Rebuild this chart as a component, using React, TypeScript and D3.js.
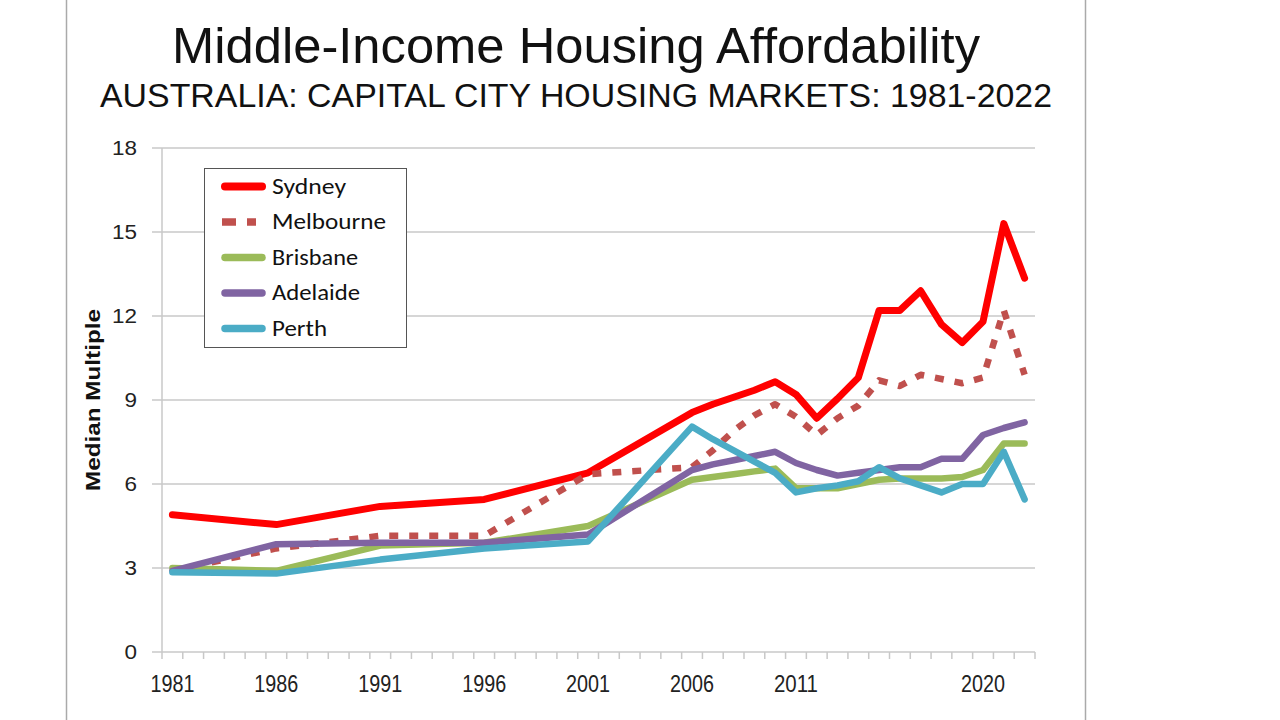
import React from "react";
import * as d3 from "d3";

const years = [1981, 1986, 1991, 1996, 2001, 2006, 2007, 2008, 2009, 2010, 2011, 2012, 2013, 2014, 2015, 2016, 2017, 2018, 2019, 2020, 2021, 2022];
const sydney = [4.9, 4.55, 5.2, 5.45, 6.4, 8.55, 8.85, 9.1, 9.35, 9.65, 9.2, 8.35, 9.05, 9.8, 12.2, 12.2, 12.9, 11.7, 11.05, 11.8, 15.3, 13.35];
const melbourne = [2.9, 3.7, 4.15, 4.15, 6.35, 6.6, 7.2, 7.9, 8.45, 8.85, 8.4, 7.75, 8.35, 8.8, 9.7, 9.5, 9.9, 9.75, 9.6, 9.8, 12.2, 9.9];
const brisbane = [3.0, 2.9, 3.8, 3.9, 4.5, 6.15, 6.25, 6.35, 6.45, 6.55, 5.85, 5.85, 5.85, 6.0, 6.15, 6.2, 6.2, 6.2, 6.25, 6.5, 7.45, 7.45];
const adelaide = [2.9, 3.85, 3.9, 3.9, 4.2, 6.5, 6.7, 6.85, 7.0, 7.15, 6.75, 6.5, 6.3, 6.4, 6.5, 6.6, 6.6, 6.9, 6.9, 7.75, 8.0, 8.2];
const perth = [2.85, 2.8, 3.3, 3.7, 3.95, 8.05, 7.6, 7.2, 6.8, 6.4, 5.7, 5.85, 5.95, 6.1, 6.6, 6.2, 5.95, 5.7, 6.0, 6.0, 7.15, 5.45];

const seriesNames = ["Sydney", "Melbourne", "Brisbane", "Adelaide", "Perth"];
const seriesValues = [sydney, melbourne, brisbane, adelaide, perth];
const seriesColors = ["#FF0000", "#C0504D", "#9BBB59", "#8064A2", "#4BACC6"];
const seriesDash = [null, "9 11", null, null, null];
const legendTextWidths = [74, 114, 86, 88, 55];

const yTicks = [0, 3, 6, 9, 12, 15, 18];
const xLabelYears = [1981, 1986, 1991, 1996, 2001, 2006, 2011, 2020];
const allYears = d3.range(1981, 2023);

export default function App() {
  const left = 162, right = 1035, top = 148, bottom = 652;
  const x = d3.scaleBand<number>().domain(allYears).range([left, right]).padding(0);
  const bw = x.bandwidth();
  const cx = (yr: number) => (x(yr) as number) + bw / 2;
  const y = d3.scaleLinear().domain([0, 18]).range([bottom, top]);
  const line = d3
    .line<[number, number]>()
    .x((d) => cx(d[0]))
    .y((d) => y(d[1]));

  const font = "'Liberation Sans', Arial, sans-serif";
  const calibri = "Carlito, 'Open Sans', 'Liberation Sans', sans-serif";

  return (
    <svg width={1280} height={720} style={{ position: "absolute", left: 0, top: 0, background: "#fff" }}>
      <rect x={0} y={0} width={1280} height={720} fill="#fff" />
      <line x1={66.5} y1={0} x2={66.5} y2={720} stroke="#aaa" strokeWidth={1.5} />
      <line x1={1085.5} y1={0} x2={1085.5} y2={720} stroke="#aaa" strokeWidth={1.5} />

      <text x={172} y={63} textLength={808} lengthAdjust="spacingAndGlyphs" fontFamily={font} fontSize={50} fill="#111">
        Middle-Income Housing Affordability
      </text>
      <text x={100} y={107} textLength={952} lengthAdjust="spacingAndGlyphs" fontFamily={font} fontSize={33} fill="#111">
        AUSTRALIA: CAPITAL CITY HOUSING MARKETS: 1981-2022
      </text>

      {/* gridlines */}
      {yTicks.map((t) => (
        <g key={t}>
          <line x1={152} x2={right} y1={y(t)} y2={y(t)} stroke="#c8c8c8" strokeWidth={1.5} />
          <text
            x={137}
            y={y(t) + 7}
            textAnchor="end"
            textLength={String(t).length * 12.5}
            lengthAdjust="spacingAndGlyphs"
            fontFamily={font}
            fontSize={20}
            fill="#222"
          >
            {t}
          </text>
        </g>
      ))}
      <line x1={left} x2={left} y1={top} y2={bottom} stroke="#c8c8c8" strokeWidth={1.5} />
      {allYears.concat([2023]).map((yr) => {
        const xx = yr === 2023 ? right : (x(yr) as number);
        return <line key={yr} x1={xx} x2={xx} y1={bottom} y2={bottom + 7} stroke="#c8c8c8" strokeWidth={1.5} />;
      })}
      {xLabelYears.map((yr) => (
        <text
          key={yr}
          x={cx(yr) - 22}
          y={692}
          textLength={44}
          lengthAdjust="spacingAndGlyphs"
          fontFamily={font}
          fontSize={24.5}
          fill="#222"
        >
          {yr}
        </text>
      ))}
      <text
        transform={`translate(100,400) rotate(-90)`}
        textAnchor="middle"
        textLength={182}
        lengthAdjust="spacingAndGlyphs"
        fontFamily="'Liberation Sans', Arial, sans-serif"
        fontWeight="bold"
        fontSize={21}
        fill="#111"
      >
        Median Multiple
      </text>

      {/* lines */}
      {seriesValues.map((vals, i) => {
        const pts: [number, number][] = years
          .map((yr, j) => [yr, vals[j]] as [number, number])
          .filter((d) => d[1] != null);
        return (
          <path
            key={seriesNames[i]}
            d={line(pts) || ""}
            fill="none"
            stroke={seriesColors[i]}
            strokeWidth={i === 0 ? 7 : 6.5}
            strokeDasharray={seriesDash[i] || undefined}
            strokeLinejoin="round"
            strokeLinecap={seriesDash[i] ? "butt" : "round"}
          />
        );
      })}

      {/* legend */}
      <rect x={204.5} y={168.5} width={202} height={179} fill="#fff" stroke="#555" strokeWidth={1} />
      {seriesNames.map((name, i) => {
        const ly = 186.5 + i * 35.5;
        return (
          <g key={name}>
            <line
              x1={seriesDash[i] ? 222 : 225}
              x2={seriesDash[i] ? 256 : 262}
              y1={ly}
              y2={ly}
              stroke={seriesColors[i]}
              strokeWidth={i === 0 ? 8 : 7.5}
              strokeLinecap={seriesDash[i] ? "butt" : "round"}
              strokeDasharray={seriesDash[i] ? "14 11" : undefined}
            />
            <text
              x={272}
              y={ly + 7}
              textLength={legendTextWidths[i]}
              lengthAdjust="spacingAndGlyphs"
              fontFamily={calibri}
              fontSize={22}
              fill="#111"
            >
              {name}
            </text>
          </g>
        );
      })}
    </svg>
  );
}
